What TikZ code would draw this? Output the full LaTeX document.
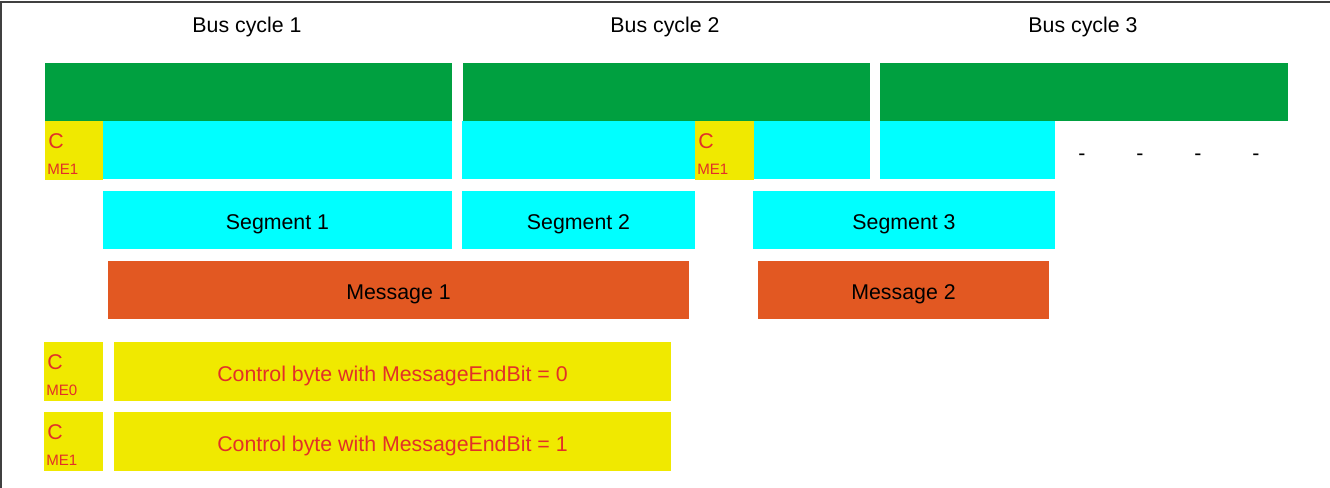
\documentclass[tikz,border=0pt]{standalone}
\usepackage{fontspec}
\setmainfont{Liberation Sans}
\definecolor{busgreen}{RGB}{0,160,64}
\definecolor{segcyan}{RGB}{0,255,255}
\definecolor{ctlyellow}{RGB}{240,233,0}
\definecolor{msgorange}{RGB}{226,88,34}
\definecolor{ctlred}{RGB}{226,48,40}
\def\px{0.75pt}
\tikzset{
    field/.style={inner sep=0pt, outer sep=0pt, minimum height=58*\px,
        font=\fontsize{16}{19}\selectfont, text height=14.5pt, text depth=0pt},
    busbox/.style={field, fill=busgreen},
    segbox/.style={field, fill=segcyan},
    msgbox/.style={field, fill=msgorange},
    ctlbox/.style={field, fill=ctlyellow, text=ctlred, minimum height=59*\px},
    ctag/.style={inner sep=0pt, text=ctlred, font=\fontsize{16}{19}\selectfont},
    metag/.style={inner sep=0pt, text=ctlred, font=\fontsize{11.3}{13}\selectfont},
    title/.style={inner sep=0pt, font=\fontsize{16}{19}\selectfont, anchor=base}
}
\begin{document}
\begin{tikzpicture}[x=0.75pt, y=-0.75pt]
    \useasboundingbox (0,0) rectangle (1330,488);
    \draw[line width=1.5*\px, black!75] (1,488) -- (1,2) -- (1330,2);

    % bus cycles
    \node[title] (cyc1) at (247,33) {Bus cycle 1};
    \node[title] (cyc2) at (665,33) {Bus cycle 2};
    \node[title] (cyc3) at (1083,33) {Bus cycle 3};
    \node[busbox, minimum width=407*\px] (bus1) at (248.5,92) {};
    \node[busbox, minimum width=407*\px] (bus2) at (666.5,92) {};
    \node[busbox, minimum width=408*\px] (bus3) at (1084,92) {};

    % frame contents
    \node[ctlbox, minimum width=58*\px] (c1) at (74,150.5) {};
    \node[segbox, minimum width=349*\px] (f1) at (277.5,150.5) {};
    \node[segbox, minimum width=233*\px] (f2) at (578.5,150.5) {};
    \node[ctlbox, minimum width=59*\px] (c2) at (724.5,150.5) {};
    \node[segbox, minimum width=116*\px] (f3) at (812,150.5) {};
    \node[segbox, minimum width=175*\px] (f4) at (967.5,150.5) {};
    \foreach \i in {0,...,3}
        \node[title, anchor=center] (dash\i) at (1082 + \i * 58, 157) {-};

    % segments and messages
    \node[segbox, minimum width=349*\px] (seg1) at (277.5,220) {Segment 1};
    \node[segbox, minimum width=233*\px] (seg2) at (578.5,220) {Segment 2};
    \node[segbox, minimum width=302*\px] (seg3) at (904,220) {Segment 3};
    \node[msgbox, minimum width=581*\px] (msg1) at (398.5,290) {Message 1};
    \node[msgbox, minimum width=291*\px] (msg2) at (903.5,290) {Message 2};

    % legend
    \node[ctlbox, minimum width=59*\px] (leg0) at (73.5,371.5) {};
    \node[ctlbox, minimum width=557*\px] (txt0) at (392.5,371.5) {Control byte with MessageEndBit = 0};
    \node[ctlbox, minimum width=59*\px] (leg1) at (73.5,441.5) {};
    \node[ctlbox, minimum width=557*\px] (txt1) at (392.5,441.5) {Control byte with MessageEndBit = 1};

    % control byte tags
    \foreach \cb/\bit in {c1/1, c2/1, leg0/0, leg1/1} {
        \node[ctag, anchor=west] (\cb c) at ([xshift=3*\px, yshift=9.5*\px]\cb.west) {C};
        \node[metag, anchor=west] (\cb m) at ([xshift=2*\px, yshift=-19*\px]\cb.west) {ME\bit};
    }
\end{tikzpicture}
\end{document}
